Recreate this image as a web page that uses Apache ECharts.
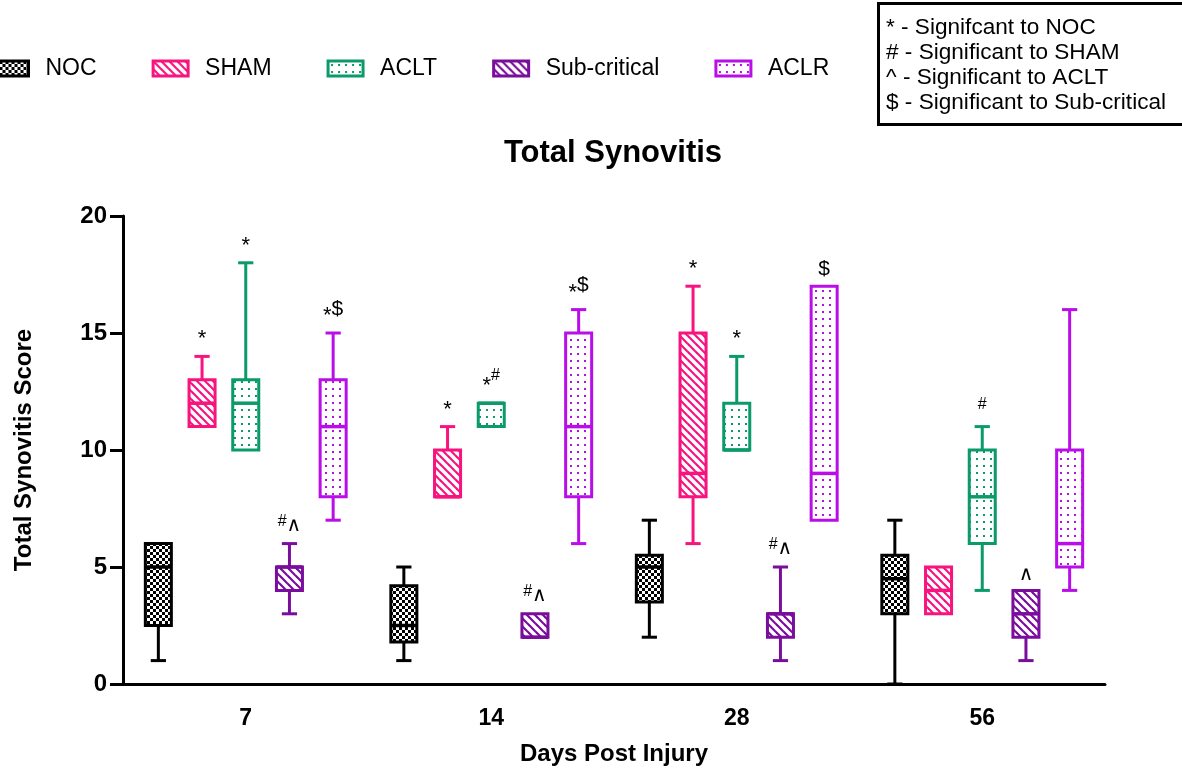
<!DOCTYPE html>
<html>
<head>
<meta charset="utf-8">
<script src="https://cdn.jsdelivr.net/npm/echarts@6/dist/echarts.min.js"></script>
<style>
  html, body { margin: 0; padding: 0; background: #fff; }
  #chart { width: 1182px; height: 771px; }
</style>
</head>
<body>
<div id="chart"></div>
<script>
// Days post injury (x categories) and treatment groups
const categories = ['7', '14', '28', '56'];
const groups = ['NOC', 'SHAM', 'ACLT', 'Sub-critical', 'ACLR'];
const yTicks = [0, 5, 10, 15, 20];

// Box statistics per day: [min, Q1, median, Q3, max]
const nocBoxes  = [[1, 2.5, 5, 6, 6], [1, 1.8, 2.5, 4.2, 5], [2, 3.5, 5, 5.5, 7], [0, 3, 4.5, 5.5, 7]];
const shamBoxes = [[11, 11, 12, 13, 14], [8, 8, 8, 10, 11], [6, 8, 9, 15, 17], [3, 3, 4, 5, 5]];
const acltBoxes = [[10, 10, 12, 13, 18], [11, 11, 12, 12, 12], [10, 10, 10, 12, 14], [4, 6, 8, 10, 11]];
const subBoxes  = [[3, 4, 5, 5, 6], [2, 2, 2, 3, 3], [1, 2, 3, 3, 5], [1, 2, 3, 4, 4]];
const aclrBoxes = [[7, 8, 11, 13, 15], [6, 8, 11, 15, 16], [7, 7, 9, 17, 17], [4, 5, 6, 10, 16]];

// Significance marks drawn above each box
const nocMarks  = ['', '', '', ''];
const shamMarks = ['*', '*', '*', ''];
const acltMarks = ['*', '*#', '*', '#'];
const subMarks  = ['#^', '#^', '#^', '^'];
const aclrMarks = ['*$', '*$', '$', ''];

const keyLines = [
  '* - Signifcant to NOC',
  '# - Significant to SHAM',
  '^ - Significant to ACLT',
  '$ - Significant to Sub-critical'
];

const FONT = '"Liberation Sans", Arial, Helvetica, sans-serif';
const colors = ['#000000', '#f7147f', '#0b9a69', '#7a0e9c', '#b90ee8'];

// --- fill patterns -------------------------------------------------------
function tile(size, draw) {
  const c = document.createElement('canvas');
  c.width = size; c.height = size;
  const ctx = c.getContext('2d');
  ctx.fillStyle = '#fff';
  ctx.fillRect(0, 0, size, size);
  draw(ctx, size);
  return c;
}
function checker(color) {
  return tile(6, (ctx) => {
    ctx.fillStyle = color;
    ctx.fillRect(0, 0, 3, 3);
    ctx.fillRect(3, 3, 3, 3);
  });
}
function hatch(color) {
  return tile(8, (ctx, s) => {
    ctx.strokeStyle = color;
    ctx.lineWidth = 2.2;
    for (let k = -1; k <= 1; k++) {
      ctx.beginPath();
      ctx.moveTo(-2, k * s - 2);
      ctx.lineTo(s + 2, k * s + s + 2);
      ctx.stroke();
    }
  });
}
function dots(color) {
  return tile(7, (ctx) => {
    ctx.fillStyle = color;
    ctx.fillRect(3, 3, 2, 2);
  });
}
const patterns = [
  checker(colors[0]), hatch(colors[1]), dots(colors[2]), hatch(colors[3]), dots(colors[4])
].map(img => ({ image: img, repeat: 'repeat' }));

const boxSets = [nocBoxes, shamBoxes, acltBoxes, subBoxes, aclrBoxes];
const markSets = [nocMarks, shamMarks, acltMarks, subMarks, aclrMarks];

// rich-text styles for the significance symbols
const markRich = {
  ast: { fontFamily: FONT, fontSize: 22, color: '#000', padding: [14, 0, 0, 0] },
  hash: { fontFamily: FONT, fontSize: 16, color: '#000', padding: [0, 0, 8, 0] },
  dol: { fontFamily: FONT, fontSize: 21, color: '#000' },
  car: { fontFamily: 'DejaVu Sans', fontSize: 20, color: '#000' }
};
function markText(s) {
  return s.split('').map(ch => {
    if (ch === '*') return '{ast|*}';
    if (ch === '#') return '{hash|#}';
    if (ch === '$') return '{dol|$}';
    if (ch === '^') return '{car|\u2227}';
    return ch;
  }).join('');
}

function makeRender(k) {
  const color = colors[k];
  const fill = patterns[k];
  const marks = markSets[k];
  return function (params, api) {
    const ci = api.value(0);
    const band = api.size([1, 0])[0];
    const off = (k - 2) * band * 0.178;
    const hb = band * 0.053;
    const hc = band * 0.031;
    const pt = i => api.coord([ci, api.value(i)]);
    const x = pt(1)[0] + off;
    const yMin = pt(1)[1], yQ1 = pt(2)[1], yMed = pt(3)[1], yQ3 = pt(4)[1], yMax = pt(5)[1];
    const line = (x1, y1, x2, y2, w) => ({
      type: 'line', silent: true,
      shape: { x1, y1, x2, y2 },
      style: { stroke: color, lineWidth: w || 3, lineCap: 'butt' }
    });
    const children = [];
    if (yMax < yQ3 - 0.5) {
      children.push(line(x, yQ3, x, yMax));
      children.push(line(x - hc, yMax, x + hc, yMax));
    }
    if (yMin > yQ1 + 0.5) {
      children.push(line(x, yQ1, x, yMin));
      children.push(line(x - hc, yMin, x + hc, yMin));
    }
    children.push({
      type: 'rect', silent: true,
      shape: { x: x - hb, y: yQ3, width: hb * 2, height: Math.max(yQ1 - yQ3, 1) },
      style: { fill: fill, stroke: color, lineWidth: 3 }
    });
    children.push(line(x - hb, yMed, x + hb, yMed, 3.5));
    const m = marks[params.dataIndex];
    if (m) {
      children.push({
        type: 'text', silent: true,
        style: {
          text: markText(m), x: x, y: yMax - 6,
          align: 'center', verticalAlign: 'bottom',
          rich: markRich
        }
      });
    }
    return { type: 'group', children };
  };
}

const series = groups.map((g, k) => ({
  type: 'custom',
  name: g,
  renderItem: makeRender(k),
  itemStyle: { color: patterns[k], borderColor: colors[k], borderWidth: 3 },
  encode: { x: 0, y: [1, 2, 3, 4, 5] },
  data: boxSets[k].map((b, i) => [i].concat(b)),
  clip: false
}));

const chart = echarts.init(document.getElementById('chart'));
chart.setOption({
  animation: false,
  backgroundColor: '#fff',
  title: {
    text: 'Total Synovitis',
    left: 608, top: 133, textAlign: 'center',
    textStyle: { fontFamily: FONT, fontSize: 31, fontWeight: 'bold', color: '#000' }
  },
  legend: {
    left: -13, top: 52,
    itemWidth: 35, itemHeight: 15, itemGap: 55,
    selectedMode: false,
    textStyle: { fontFamily: FONT, fontSize: 23, color: '#000', padding: [0, 0, 0, 12] },
    data: groups.map((g, k) => ({
      name: g, icon: 'rect',
      itemStyle: { color: patterns[k], borderColor: colors[k], borderWidth: 3 }
    }))
  },
  grid: { left: 123, right: 77, top: 216, bottom: 87, containLabel: false },
  xAxis: {
    type: 'category',
    data: categories,
    name: 'Days Post Injury',
    nameLocation: 'middle',
    nameGap: 58,
    nameTextStyle: { fontFamily: FONT, fontSize: 24, fontWeight: 'bold', color: '#000' },
    axisLine: { lineStyle: { color: '#000', width: 3 } },
    axisTick: { alignWithLabel: true, length: 12, lineStyle: { color: '#000', width: 3 } },
    axisLabel: { fontFamily: FONT, fontSize: 23, fontWeight: 'bold', color: '#000', margin: 23 },
    splitLine: { show: false }
  },
  yAxis: {
    type: 'value',
    min: yTicks[0], max: yTicks[yTicks.length - 1], interval: yTicks[1] - yTicks[0],
    name: 'Total Synovitis Score',
    nameLocation: 'middle',
    nameGap: 87,
    nameTextStyle: { fontFamily: FONT, fontSize: 24, fontWeight: 'bold', color: '#000' },
    axisLine: { show: true, lineStyle: { color: '#000', width: 3 } },
    axisTick: { show: true, length: 13, lineStyle: { color: '#000', width: 3 } },
    axisLabel: { fontFamily: FONT, fontSize: 24, fontWeight: 'bold', color: '#000', margin: 16 },
    splitLine: { show: false }
  },
  graphic: [
    {
      type: 'rect', left: 877, top: 2, silent: true,
      shape: { width: 340, height: 121 },
      style: { fill: '#fff', stroke: '#000', lineWidth: 3 }
    },
    {
      type: 'text', left: 886, top: 15, silent: true,
      style: { text: keyLines.join('\n'), font: '22.6px ' + FONT, lineHeight: 25, fill: '#000' }
    }
  ],
  series: series
});
</script>
</body>
</html>
